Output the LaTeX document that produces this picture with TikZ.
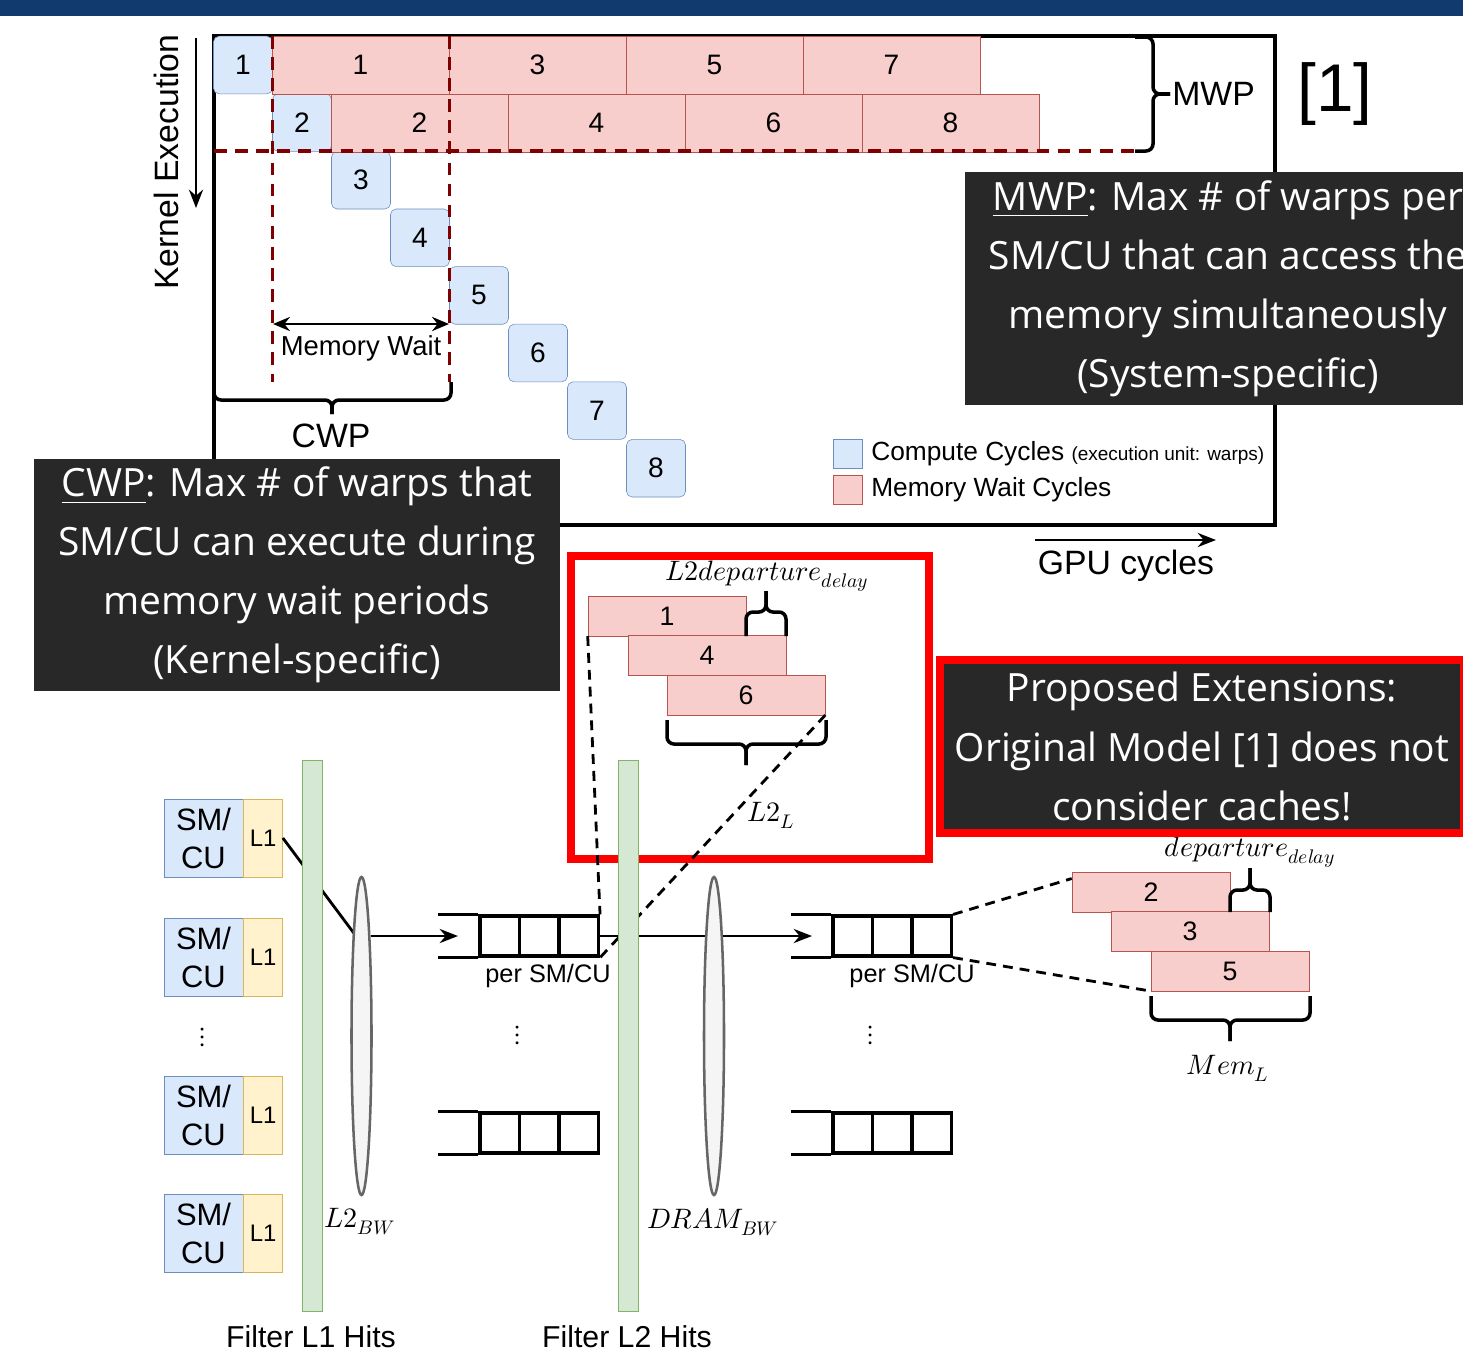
\documentclass[tikz,border=0pt]{standalone}
\usepackage{fontspec}
\usepackage{unicode-math}
\setmainfont{Liberation Sans}
\setmathfont{Latin Modern Math}
\newfontfamily\boxfont{Open Sans}
\usepackage{tikz}
\usetikzlibrary{shapes.geometric,arrows.meta}
\usetikzlibrary{positioning}

\definecolor{compfill}{HTML}{DAE8FC}
\definecolor{compline}{HTML}{6C8EBF}
\definecolor{memfill}{HTML}{F8CECC}
\definecolor{memline}{HTML}{B85450}
\definecolor{lonefill}{HTML}{FFF2CC}
\definecolor{loneline}{HTML}{D6B656}
\definecolor{filtfill}{HTML}{D5E8D4}
\definecolor{filtline}{HTML}{82B366}
\definecolor{bwfill}{HTML}{F5F5F5}
\definecolor{bwline}{HTML}{666666}
\definecolor{waitred}{HTML}{7F0000}
\definecolor{darkbg}{HTML}{282828}
\definecolor{topbar}{HTML}{113A6E}

\begin{document}
\begin{tikzpicture}[x=0.025cm,y=-0.025cm,
  comp/.style={draw=compline,fill=compfill,rounded corners=4pt,inner sep=0,
    minimum width=1.475cm,minimum height=1.44cm,font=\fontsize{20}{24}\selectfont},
  memw/.style={draw=memline,fill=memfill,inner sep=0,
    minimum width=4.425cm,minimum height=1.44cm,font=\fontsize{20}{24}\selectfont},
  memsmall/.style={draw=memline,fill=memfill,inner sep=0,
    minimum width=3.95cm,minimum height=0.99cm,font=\fontsize{19}{23}\selectfont},
  smcu/.style={draw=compline,fill=compfill,inner sep=0,align=center,
    minimum width=1.975cm,minimum height=1.95cm,font=\fontsize{22}{27}\selectfont},
  lone/.style={draw=loneline,fill=lonefill,inner sep=0,
    minimum width=0.975cm,minimum height=1.95cm,font=\fontsize{17}{20}\selectfont},
  filt/.style={draw=filtline,fill=filtfill,inner sep=0,
    minimum width=0.5cm,minimum height=13.775cm},
  bwell/.style={ellipse,draw=bwline,fill=bwfill,line width=1.8pt,inner sep=0,
    minimum width=0.5cm,minimum height=7.95cm},
  qcell/.style={draw,line width=2.2pt,inner sep=0,minimum width=0.9875cm,minimum height=1cm},
  darkbox/.style={fill=darkbg,text=white,align=center,inner sep=0,
    font=\boxfont\fontsize{27.7}{42}\selectfont},
  waitline/.style={waitred,line width=2.8pt,dash pattern=on 9pt off 6pt},
  brk/.style={line width=2.5pt,rounded corners=5pt},
  dashln/.style={line width=2pt,dash pattern=on 7pt off 5pt},
  arr/.style={line width=2pt,-{Stealth[length=13pt,width=10pt]}},
  lbl/.style={inner sep=0,font=\fontsize{24}{28}\selectfont},
  small/.style={inner sep=0,font=\fontsize{18}{22}\selectfont},
  mathlbl/.style={inner sep=0,font=\fontsize{20}{24}\selectfont}]

  \clip (0,0) rectangle (1463,1370);
  \fill[topbar] (0,0) rectangle (1463,16);

  % chart frame
  \draw[line width=2.4pt] (214,36) rectangle (1275,525);

  % compute and memory wait cycles
  \foreach \i in {1,...,8}
    \node[comp] (c\i) at ({243+59*(\i-1)},{65+57.6*(\i-1)}) {\i};
  \foreach \i/\k in {1/0,3/1,5/2,7/3}
    \node[memw] (m\i) at ({360.5+177*\k},65) {\i};
  \foreach \i/\k in {2/0,4/1,6/2,8/3}
    \node[memw] (m\i) at ({419.5+177*\k},123) {\i};

  % wait limits
  \draw[waitline] (214,151) -- (1135,151);
  \draw[waitline] (272.5,36) -- (272.5,382);
  \draw[waitline] (449.5,36) -- (449.5,382);

  % MWP brace
  \draw[brk] (1135,37) -- (1153,37) -- (1153,94) -- (1170,94);
  \draw[brk] (1135,151) -- (1153,151) -- (1153,94) -- (1170,94);
  \node[lbl,anchor=west] (mwp) at (1172,94) {MWP};
  \node[inner sep=0,font=\fontsize{48}{56}\selectfont] (ref) at (1335,94) {[1]};

  % CWP brace
  \draw[brk] (214,382) -- (214,400) -- (332,400) -- (332,414);
  \draw[brk] (451,382) -- (451,400) -- (332,400) -- (332,414);
  \node[lbl] (cwp) at (331,436) {CWP};

  % memory wait
  \coordinate (mwl) at (273,324);
  \coordinate (mwr) at (449,324);
  \draw[line width=2pt,{Stealth[length=12pt,width=10pt]}-{Stealth[length=12pt,width=10pt]}] (mwl) -- (mwr);
  \node[inner sep=0,font=\fontsize{19.5}{23}\selectfont] (mwait) at (361,348) {Memory Wait};

  % kernel execution axis
  \node[lbl,rotate=90] (kexec) at (166,162) {Kernel Execution};
  \coordinate (ktop) at (196,38);
  \coordinate (kbot) at (196,208);
  \draw[arr] (ktop) -- (kbot);

  % legend
  \node[draw=compline,fill=compfill,minimum size=0.725cm,inner sep=0] (lgc) at (847.5,453.5) {};
  \node[draw=memline,fill=memfill,minimum size=0.725cm,inner sep=0] (lgm) at (847.5,489.5) {};
  \node[inner sep=0,anchor=west,font=\fontsize{18.7}{22}\selectfont] (lgctxt) at (871,453.5)
    {Compute Cycles {\fontsize{13.5}{16}\selectfont (execution unit: warps)}};
  \node[inner sep=0,anchor=west,font=\fontsize{18.7}{22}\selectfont] (lgmtxt) at (871,489.5)
    {Memory Wait Cycles};

  % gpu cycles axis
  \coordinate (gl) at (1035,540);
  \coordinate (gr) at (1216,540);
  \draw[arr] (gl) -- (gr);
  \node[lbl] (gpu) at (1126,566) {GPU cycles};

  % definitions
  \node[darkbox,minimum width=13.15cm,minimum height=5.825cm] (mwpbox) at (1228,288.5)
    {\underline{MWP}: Max \# of warps per\\SM/CU that can access the\\memory simultaneously\\(System-specific)};
  \node[darkbox,minimum width=13.15cm,minimum height=5.8cm] (cwpbox) at (297,575)
    {\underline{CWP}: Max \# of warps that\\SM/CU can execute during\\memory wait periods\\(Kernel-specific)};

  % L2 zoom
  \draw[red,line width=0.2cm] (571,556) rectangle (929,859);
  \node[memsmall] (l1) at (667,616) {1};
  \node[memsmall] (l4) at (707,655.5) {4};
  \node[memsmall] (l6) at (746,695) {6};
  \draw[brk] (746,636) -- (746,612) -- (766,612) -- (766,591);
  \draw[brk] (786,636) -- (786,612) -- (766,612) -- (766,591);
  \node[mathlbl] (l2dep) at (767,576) {$L2departure_{delay}$};
  \draw[brk] (667,720) -- (667,744) -- (746,744) -- (746,765);
  \draw[brk] (826,720) -- (826,744) -- (746,744) -- (746,765);
  \node[mathlbl] (l2lat) at (771,815) {$L2_{L}$};

  % SMs with L1
  \foreach \n/\y in {1/838,2/957,3/1115,4/1233} {
    \node[smcu] (sm\n) at (203.5,\y) {SM/\\CU};
    \node[lone,right=0pt of sm\n] (lone\n) {L1};
  }
  \node[mathlbl] (dotsa) at (203,1037) {$\vdots$};

  % queues
  \foreach \q/\x/\y in {a/499.75/936,c/499.75/1133,b/852.75/936,d/852.75/1133} {
    \foreach \k in {0,1,2}
      \node[qcell] (q\q\k) at ({\x+39.5*\k},\y) {};
    \draw[line width=2.2pt] (q\q0.north west) -- ++(-40,0);
    \draw[line width=2.2pt] (q\q0.south west) -- ++(-40,0);
  }
  \node[small] (psa) at (548,976) {per SM/CU};
  \node[small] (psb) at (912,976) {per SM/CU};
  \node[mathlbl] (dotsb) at (518,1035) {$\vdots$};
  \node[mathlbl] (dotsc) at (871,1035) {$\vdots$};

  % requests
  \coordinate (qain) at (458,936);
  \coordinate (qbin) at (812,936);
  \draw[line width=2pt] (lone1.east) -- (356,936);
  \draw[arr] (371,936) -- (qain);
  \draw[arr] (qa2.east) -- (qbin);

  % latency zoom lines
  \draw[dashln] (l1.south west) -- (qa2.north east);
  \draw[dashln] (l6.south east) -- (qa2.south east);

  % filters and bandwidth
  \node[filt] (fa) at (312,1035.5) {};
  \node[filt] (fb) at (628,1035.5) {};
  \node[bwell] (ea) at (361.5,1036) {};
  \node[bwell] (eb) at (714,1036) {};
  \node[mathlbl] (l2bw) at (360,1222) {$L2_{BW}$};
  \node[mathlbl] (drambw) at (713,1222) {$DRAM_{BW}$};
  \node[inner sep=0,font=\fontsize{21.5}{25}\selectfont] (fla) at (311,1337) {Filter L1 Hits};
  \node[inner sep=0,font=\fontsize{21.5}{25}\selectfont] (flb) at (627,1337) {Filter L2 Hits};

  % memory side
  \node[memsmall] (r2) at (1151,892.5) {2};
  \node[memsmall] (r3) at (1190,931.5) {3};
  \node[memsmall] (r5) at (1230,971) {5};
  \draw[dashln] (qb2.north east) -- (r2.170);
  \draw[dashln] (qb2.south east) -- (r5.south west);
  \draw[brk] (1230,912) -- (1230,890) -- (1250,890) -- (1250,868);
  \draw[brk] (1270,912) -- (1270,890) -- (1250,890) -- (1250,868);
  \node[mathlbl] (dep) at (1250,852) {$departure_{delay}$};
  \draw[brk] (1151,996) -- (1151,1020) -- (1230,1020) -- (1230,1041);
  \draw[brk] (1310,996) -- (1310,1020) -- (1230,1020) -- (1230,1041);
  \node[mathlbl] (meml) at (1228,1068) {$Mem_{L}$};

  % extensions note
  \node[darkbox,draw=red,line width=0.18cm,minimum width=13.1cm,minimum height=4.325cm] (extbox) at (1202,746.5)
    {Proposed Extensions:\\Original Model [1] does not\\consider caches!};

\end{tikzpicture}
\end{document}
